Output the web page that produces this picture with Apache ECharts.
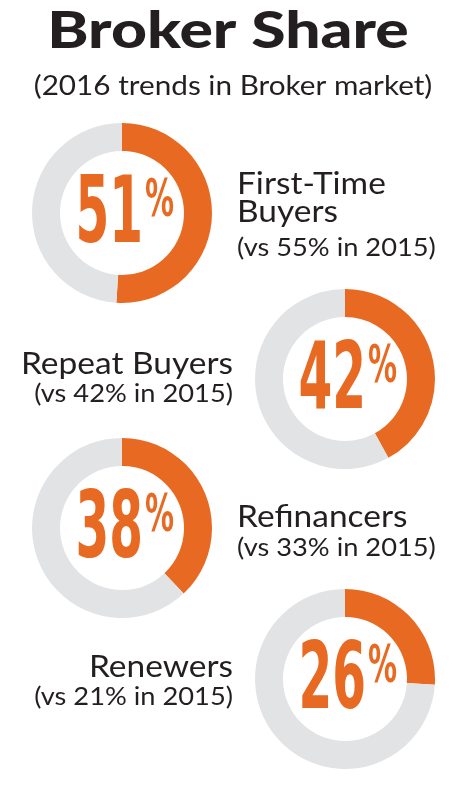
<!DOCTYPE html>
<html>
<head>
<meta charset="utf-8">
<script src="https://cdn.jsdelivr.net/npm/echarts@6/dist/echarts.min.js"></script>
<style>
html,body{margin:0;padding:0;background:#fff;}
#chart{width:456px;height:788px;}
</style>
</head>
<body>
<div id="chart"></div>
<script>
// ---- data ----
const titleText = 'Broker Share';
const subtitleText = '(2016 trends in Broker market)';
const categories = ['First-Time Buyers', 'Repeat Buyers', 'Refinancers', 'Renewers'];
const labelLines = [['First-Time', 'Buyers'], ['Repeat Buyers'], ['Refinancers'], ['Renewers']];
const share2016 = [51, 42, 38, 26];
const share2015 = [55, 42, 33, 21];

// ---- layout ----
const ORANGE = '#E86A22';
const GREY = '#E2E3E5';
const INK = '#231F20';
const centers = [[122, 213], [345, 379], [122, 528], [345, 679]];
const labelSide = ['left', 'right', 'left', 'right'];
const labelX = { left: 237, right: 233 };
const nameBaselines = [[195, 223], [375], [528], [678]];
const subBaselines = [257, 403, 557, 706];
const labelFont = 'Lato, "Open Sans", sans-serif';
const numFont = '"DejaVu Sans Condensed", sans-serif';

const chart = echarts.init(document.getElementById('chart'), null, { renderer: 'canvas' });

const series = share2016.map((v, i) => ({
  type: 'pie',
  name: categories[i],
  center: centers[i],
  radius: [62, 90],
  startAngle: 90,
  clockwise: true,
  silent: true,
  animation: false,
  z: 1,
  label: { show: false },
  labelLine: { show: false },
  data: [
    { name: '2016', value: v, itemStyle: { color: ORANGE } },
    { name: 'other', value: 100 - v, itemStyle: { color: GREY } }
  ]
}));

const graphic = [];
// title + subtitle
graphic.push({
  type: 'text', x: 228, y: 31.5, scaleX: 1.2, z: 10, silent: true,
  style: { text: titleText, font: '900 52px ' + labelFont, fill: INK,
    textAlign: 'center', textVerticalAlign: 'middle' }
});
graphic.push({
  type: 'text', x: 233, y: 86.5, scaleX: 1.1, z: 10, silent: true,
  style: { text: subtitleText, font: '27px ' + labelFont, fill: INK,
    textAlign: 'center', textVerticalAlign: 'middle' }
});

share2016.forEach((v, i) => {
  const [cx, cy] = centers[i];
  graphic.push({
    type: 'text', x: cx + 21, y: cy + 4.5, scaleX: 0.58, z: 10, silent: true,
    style: { text: String(v), font: 'bold 93px ' + numFont, fill: ORANGE,
      textAlign: 'right', textVerticalAlign: 'middle' }
  });
  graphic.push({
    type: 'text', x: cx + 23, y: cy - 10.5, scaleX: 0.62, z: 10, silent: true,
    style: { text: '%', font: 'bold 52px ' + numFont, fill: ORANGE,
      textAlign: 'left', textVerticalAlign: 'middle' }
  });
  const side = labelSide[i];
  const x = labelX[side];
  const align = side === 'left' ? 'left' : 'right';
  labelLines[i].forEach((line, k) => {
    graphic.push({
      type: 'text', x: x, y: nameBaselines[i][k] - 11, scaleX: 1.08, z: 10, silent: true,
      style: { text: line, font: '31px ' + labelFont, fill: INK,
        textAlign: align, textVerticalAlign: 'middle' }
    });
  });
  graphic.push({
    type: 'text', x: x, y: subBaselines[i] - 9, scaleX: 1.09, z: 10, silent: true,
    style: { text: '(vs ' + share2015[i] + '% in 2015)', font: '25px ' + labelFont, fill: INK,
      textAlign: align, textVerticalAlign: 'middle' }
  });
});

chart.setOption({
  animation: false,
  backgroundColor: '#ffffff',
  series: series,
  graphic: graphic
});
</script>
</body>
</html>
